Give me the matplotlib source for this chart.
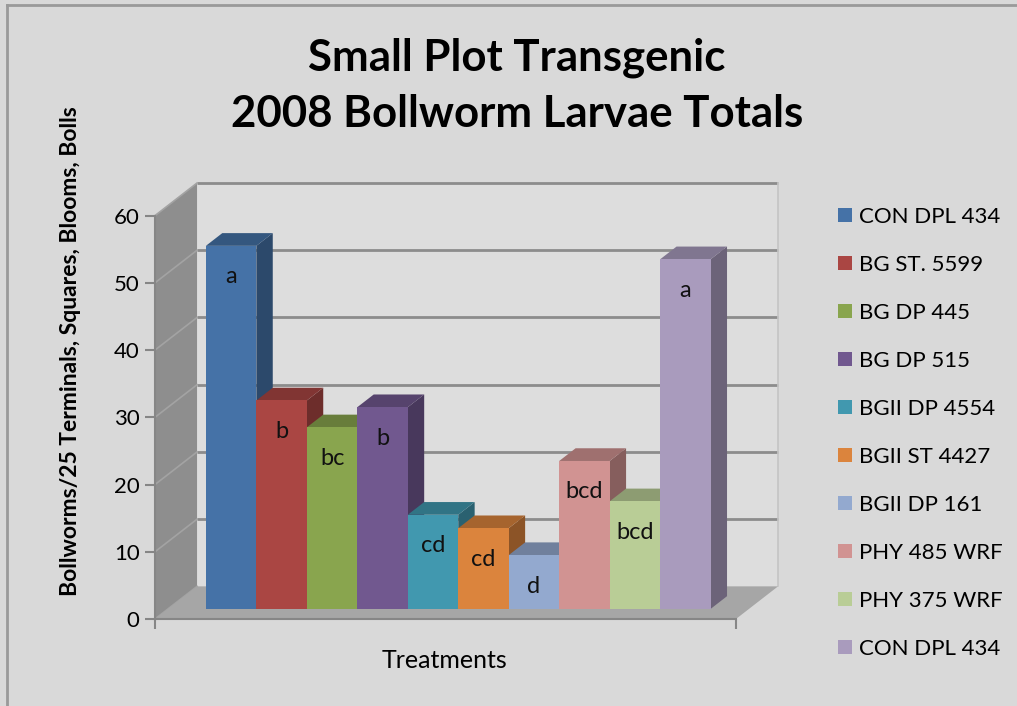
import numpy as np
import matplotlib
matplotlib.use("Agg")
import matplotlib.pyplot as plt
from matplotlib.patches import Polygon, Rectangle, Patch
from matplotlib.colors import to_rgb

plt.rcParams['font.family'] = ['Lato', 'DejaVu Sans']

# data
treatments = ["CON DPL 434", "BG ST. 5599", "BG DP 445", "BG DP 515", "BGII DP 4554",
              "BGII ST 4427", "BGII DP 161", "PHY 485 WRF", "PHY 375 WRF", "CON DPL 434"]
larvae = [54, 31, 27, 30, 14, 12, 8, 22, 16, 52]
letters = ["a", "b", "bc", "b", "cd", "cd", "d", "bcd", "bcd", "a"]
colors = ["#4572A7", "#AA4643", "#89A54E", "#71588F", "#4198AF",
          "#DB843D", "#93A9CF", "#D19392", "#B9CD96", "#A99BBD"]
yticks = [0, 10, 20, 30, 40, 50, 60]

BG = "#d9d9d9"
W, H = 1017, 706

# fake 3d: oblique depth vector in data units
DX, DY = 0.833, 4.85
f0, f1 = 0.31, 0.70          # bar front / back depth fractions
xfl, xfr = -1.25, 10.26      # floor front edge
ymax = 60


def shade(c, k):
    r, g, b = to_rgb(c)
    return (r * k, g * k, b * k)


fig = plt.figure(figsize=(W / 100, H / 100), dpi=100, facecolor=BG)
ax = fig.add_axes([155 / W, (H - 619) / H, (778 - 155) / W, (619 - 183) / H])
ax.set_facecolor("none")
ax.set_xlim(xfl, xfr + DX)
ax.set_ylim(0, ymax + DY)

# back wall + gridlines
ax.add_patch(Rectangle((xfl + DX, DY), xfr - xfl, ymax, facecolor="#dddddd",
                       edgecolor="none", zorder=0))
for t in yticks[1:]:
    ax.plot([xfl + DX, xfr + DX], [t + DY, t + DY], color="#8c8c8c", lw=2,
            zorder=1, clip_on=False, solid_capstyle="butt")
ax.plot([xfr + DX, xfr + DX], [DY, ymax + DY], color="#c4c4c4", lw=1.2, zorder=1, clip_on=False)

# left wall
ax.add_patch(Polygon([(xfl, 0), (xfl, ymax), (xfl + DX, ymax + DY), (xfl + DX, DY)],
                     closed=True, facecolor="#8e8e8e", edgecolor="none", zorder=2))
for t in yticks:
    ax.plot([xfl, xfl + DX], [t, t + DY], color="#a3a3a3", lw=1.2, zorder=2, clip_on=False)

# floor
ax.add_patch(Polygon([(xfl, 0), (xfr, 0), (xfr + DX, DY), (xfl + DX, DY)],
                     closed=True, facecolor="#a6a6a6", edgecolor="none", zorder=2))

# bars, left to right so later ones hide earlier side faces
x = np.arange(len(larvae)) + f0 * DX
y0 = f0 * DY
d = f1 - f0
for i, (xi, v, c) in enumerate(zip(x, larvae, colors)):
    z = 3 + i * 0.01
    xl, xr, top = xi - 0.5, xi + 0.5, y0 + v
    ax.add_patch(Polygon([(xr, y0), (xr, top), (xr + d * DX, top + d * DY), (xr + d * DX, y0 + d * DY)],
                         closed=True, facecolor=shade(c, 0.64), edgecolor="none", zorder=z))
    ax.add_patch(Polygon([(xl, top), (xr, top), (xr + d * DX, top + d * DY), (xl + d * DX, top + d * DY)],
                         closed=True, facecolor=shade(c, 0.76), edgecolor="none", zorder=z))
    ax.bar(xi, v, bottom=y0, width=1, color=c, edgecolor="none", zorder=z + 0.005)
    ax.annotate(letters[i], (xi, top), xytext=(0, -31), textcoords="offset pixels",
                ha="center", va="center", fontsize=17, color="#111111", zorder=4)

# axes
for s in ["top", "right"]:
    ax.spines[s].set_visible(False)
ax.spines["left"].set_bounds(0, ymax)
ax.spines["bottom"].set_bounds(xfl, xfr)
for s in ["left", "bottom"]:
    ax.spines[s].set_color("#868686")
    ax.spines[s].set_linewidth(1.5)
    ax.spines[s].set_zorder(5)
ax.set_yticks(yticks)
ax.set_yticklabels([str(t) for t in yticks], fontsize=16)
ax.set_xticks([xfl, xfr])
ax.set_xticklabels(["", ""])
ax.tick_params(axis="both", color="#868686", width=1.5, length=7, direction="out")
ax.tick_params(axis="y", pad=4)
ax.set_xlabel("Treatments", fontsize=18)
ax.xaxis.set_label_coords((445 - 155) / 623, -0.068)
fig.text(71 / W, 1 - 351 / H, "Bollworms/25 Terminals, Squares, Blooms, Bolls",
         rotation=90, ha="center", va="center", fontsize=16.5, fontweight="bold")

fig.text(517 / W, 1 - 58 / H, "Small Plot Transgenic", ha="center", va="center",
         fontsize=31.5, fontweight="bold")
fig.text(517 / W, 1 - 114 / H, "2008 Bollworm Larvae Totals", ha="center", va="center",
         fontsize=31.5, fontweight="bold")

handles = [Patch(facecolor=c, edgecolor="none") for c in colors]
fig.legend(handles, treatments, loc="upper left", bbox_to_anchor=(829 / W, 1 - 198 / H),
           frameon=False, fontsize=16, handlelength=0.63, handleheight=0.63,
           handletextpad=0.3, labelspacing=1.26, borderaxespad=0)

# chart border (left and top only visible in the crop)
fig.add_artist(plt.Line2D([7 / W, 7 / W], [0, 1 - 5 / H], color="#9a9a9a", lw=2))
fig.add_artist(plt.Line2D([7 / W, 1], [1 - 5 / H, 1 - 5 / H], color="#9a9a9a", lw=2))

fig.savefig("out.png", dpi=100, facecolor=BG)
